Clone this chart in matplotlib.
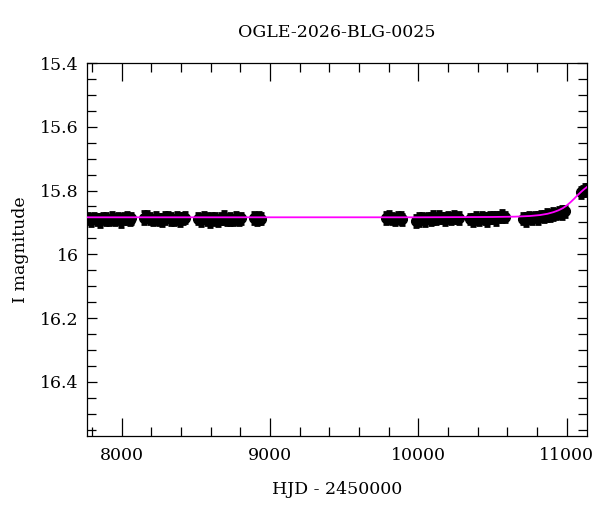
import matplotlib
matplotlib.use("Agg")
import matplotlib.pyplot as plt
from matplotlib.ticker import MultipleLocator

hjd = [7775, 7795, 7815, 7835, 7855, 7875, 7895, 7915, 7935, 7955, 7975, 7995, 8015, 8035, 8055, 8065,
       8150, 8170, 8190, 8210, 8230, 8250, 8270, 8290, 8310, 8330, 8350, 8370, 8390, 8410, 8430,
       8512, 8532, 8552, 8572, 8592, 8612, 8632, 8652, 8672, 8692, 8712, 8732, 8752, 8772, 8792, 8805,
       8892, 8910, 8928, 8940,
       9780, 9800, 9820, 9840, 9860, 9880, 9888,
       9982, 10002, 10022, 10042, 10062, 10082, 10102, 10122, 10142, 10162, 10182, 10202, 10222, 10242, 10262, 10274,
       10346, 10366, 10386, 10406, 10426, 10446, 10466, 10486, 10506, 10526, 10546, 10566, 10586,
       10708, 10728, 10748, 10768, 10788, 10808, 10828, 10848, 10868, 10888, 10908, 10928, 10948, 10968, 10988,
       11098, 11112, 11124, 11134]
mag = [15.889, 15.893, 15.886, 15.891, 15.894, 15.887, 15.889, 15.893, 15.886, 15.891, 15.887, 15.894, 15.889, 15.885, 15.891, 15.887,
       15.885, 15.882, 15.888, 15.892, 15.885, 15.890, 15.893, 15.886, 15.883, 15.889, 15.892, 15.886, 15.892, 15.888, 15.885,
       15.888, 15.892, 15.885, 15.889, 15.893, 15.886, 15.889, 15.894, 15.888, 15.885, 15.891, 15.889, 15.893, 15.886, 15.890, 15.887,
       15.886, 15.890, 15.885, 15.888,
       15.886, 15.883, 15.889, 15.891, 15.884, 15.887, 15.890,
       15.895, 15.891, 15.887, 15.892, 15.886, 15.890, 15.885, 15.888, 15.883, 15.887, 15.890, 15.884, 15.887, 15.883, 15.886, 15.885,
       15.890, 15.893, 15.886, 15.890, 15.885, 15.888, 15.891, 15.885, 15.884, 15.887, 15.883, 15.881, 15.884,
       15.888, 15.891, 15.884, 15.887, 15.882, 15.885, 15.880, 15.882, 15.877, 15.878, 15.873, 15.874, 15.869, 15.869, 15.865,
       15.806, 15.801, 15.798, 15.795]
err = [0.017, 0.019, 0.016, 0.018, 0.020, 0.017, 0.018, 0.016, 0.019, 0.017, 0.018, 0.020] * 9 + [0.014] * 5

# model curve points
model_t = [7766, 9000, 10000, 10500, 10650, 10750, 10820, 10870, 10910, 10945, 10975, 11000,
           11025, 11050, 11075, 11100, 11120, 11137]
model_m = [15.884, 15.884, 15.884, 15.883, 15.882, 15.880, 15.877, 15.873, 15.868, 15.862, 15.855, 15.847,
           15.837, 15.826, 15.814, 15.803, 15.795, 15.789]

plt.rcParams["font.family"] = "DejaVu Serif"
fig = plt.figure(figsize=(6, 5.12), dpi=100)
ax = fig.add_axes([87 / 600, 1 - 436 / 512, 500 / 600, 373 / 512])

ax.errorbar(hjd, mag, yerr=err[:len(hjd)], fmt="o", color="black", ms=7, elinewidth=3.5, capsize=2.5,
            capthick=2, zorder=2)
ax.plot(model_t, model_m, color="#ff00ff", lw=1.3, zorder=3)

ax.set_xlim(7766, 11137)
ax.set_ylim(16.57, 15.4)
ax.xaxis.set_major_locator(MultipleLocator(1000))
ax.xaxis.set_minor_locator(MultipleLocator(200))
ax.yaxis.set_minor_locator(MultipleLocator(0.05))
ax.set_yticks([15.4, 15.6, 15.8, 16.0, 16.2, 16.4])
ax.set_yticklabels(["15.4", "15.6", "15.8", "16", "16.2", "16.4"])
ax.tick_params(axis="both", which="both", direction="in", top=True, right=True, labelsize=12.5, width=0.9)
ax.tick_params(axis="x", which="major", length=13, pad=8)
ax.tick_params(axis="x", which="minor", length=6.5)
ax.tick_params(axis="y", which="major", length=7, pad=6)
ax.tick_params(axis="y", which="minor", length=6.5)
for s in ax.spines.values():
    s.set_linewidth(0.9)

ax.set_title("OGLE-2026-BLG-0025", fontsize=12.5, pad=19)
ax.set_xlabel("HJD - 2450000", fontsize=12.5, labelpad=12)
ax.set_ylabel("I magnitude", fontsize=12.5, labelpad=8)

fig.savefig("out.png", dpi=100)
